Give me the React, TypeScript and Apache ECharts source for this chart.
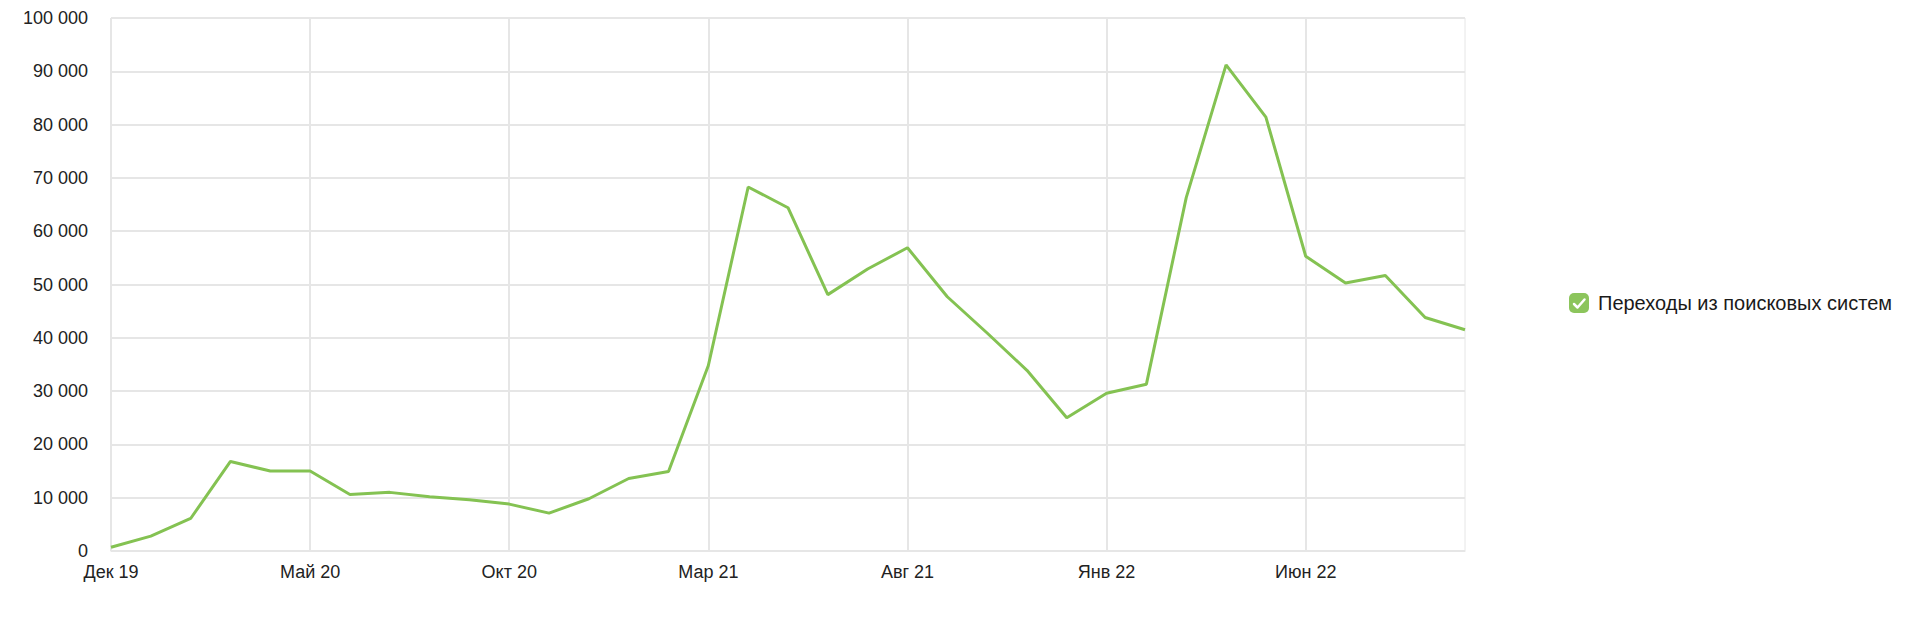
import React, { useEffect, useRef } from "react";
import * as echarts from "echarts";

const categories = [
  "Дек 19", "Янв 20", "Фев 20", "Мар 20", "Апр 20", "Май 20", "Июн 20", "Июл 20", "Авг 20", "Сен 20",
  "Окт 20", "Ноя 20", "Дек 20", "Янв 21", "Фев 21", "Мар 21", "Апр 21", "Май 21", "Июн 21", "Июл 21",
  "Авг 21", "Сен 21", "Окт 21", "Ноя 21", "Дек 21", "Янв 22", "Фев 22", "Мар 22", "Апр 22", "Май 22",
  "Июн 22", "Июл 22", "Авг 22", "Сен 22", "Окт 22",
];

const searchVisits = [
  700, 2800, 6100, 16800, 15000, 15000, 10600, 11000, 10200, 9600,
  8800, 7100, 9800, 13600, 14900, 34800, 68300, 64400, 48100, 52900,
  56900, 47700, 40900, 33900, 25000, 29600, 31300, 66300, 91200, 81400,
  55300, 50300, 51700, 43800, 41500,
];

const seriesName = "Переходы из поисковых систем";
const lineColor = "#84c252";
const boxColor = "#8cc55c";

const fmt = (v: number) => String(v).replace(/\B(?=(\d{3})+(?!\d))/g, " ");

export default function App() {
  const ref = useRef<HTMLDivElement>(null);
  useEffect(() => {
    document.body.style.margin = "0";
    const chart = echarts.init(ref.current!, null, { renderer: "svg" });
    chart.setOption({
      animation: false,
      backgroundColor: "#fff",
      textStyle: { fontFamily: "Arial, 'Liberation Sans', sans-serif" },
      grid: {
        left: 111,
        right: 1910 - 1465,
        top: 18,
        bottom: 619 - 551,
        show: true,
        borderColor: "#e6e6e6",
        borderWidth: 1,
      },
      legend: {
        show: true,
        orient: "vertical",
        left: 1569,
        top: 293,
        padding: 0,
        icon: "roundRect",
        itemWidth: 20,
        itemHeight: 20,
        itemGap: 8,
        selectedMode: false,
        textStyle: { fontSize: 20, color: "#1a1a1a", padding: [0, 0, 0, 4] },
        data: [{ name: seriesName, itemStyle: { color: boxColor } }],
      },
      graphic: [
        {
          type: "polyline",
          z: 100,
          shape: { points: [[1574, 304], [1577.5, 307.5], [1584.5, 299.5]] },
          style: { stroke: "#fff", lineWidth: 2.5, fill: "none", lineCap: "round", lineJoin: "round" },
        },
      ],
      xAxis: {
        type: "category",
        data: categories,
        boundaryGap: false,
        axisLine: { show: true, lineStyle: { color: "#e6e6e6" } },
        axisTick: { show: false },
        axisLabel: { interval: 4, color: "#222", fontSize: 18, margin: 12 },
        splitLine: { show: true, interval: 4, lineStyle: { color: "#e6e6e6", width: 2 } },
      },
      yAxis: {
        type: "value",
        min: 0,
        max: 100000,
        interval: 10000,
        axisLine: { show: false },
        axisTick: { show: false },
        axisLabel: { color: "#222", fontSize: 18, margin: 23, formatter: (v: number) => fmt(v) },
        splitLine: { show: true, lineStyle: { color: "#e6e6e6", width: 2 } },
      },
      series: [
        {
          name: seriesName,
          type: "line",
          data: searchVisits,
          showSymbol: false,
          symbol: "none",
          lineStyle: { color: lineColor, width: 3 },
          itemStyle: { color: lineColor },
        },
      ],
    });
    return () => chart.dispose();
  }, []);
  return <div ref={ref} style={{ width: 1910, height: 619 }} />;
}
